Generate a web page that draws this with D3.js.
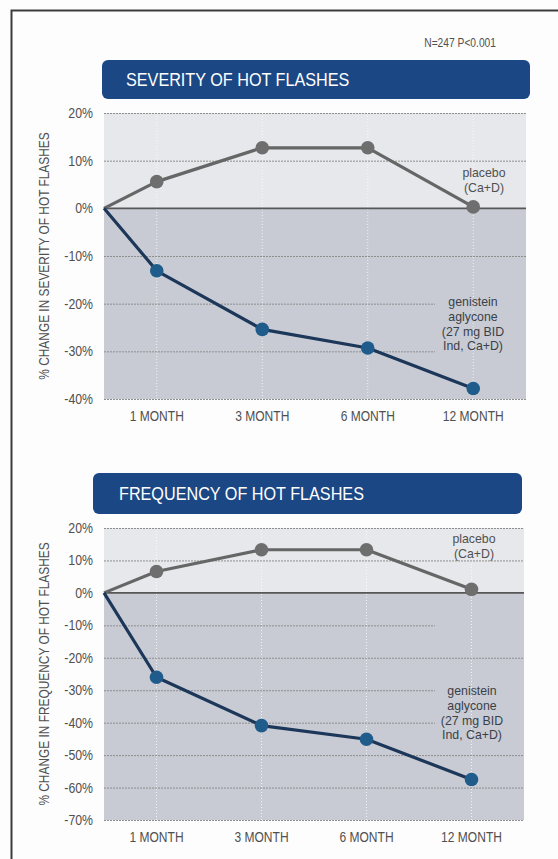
<!DOCTYPE html>
<html>
<head>
<meta charset="utf-8">
<script src="https://cdn.jsdelivr.net/npm/d3@7"></script>
<style>
  html, body { margin: 0; padding: 0; background: #fdfdfd; }
  svg { display: block; }
  text { font-family: 'Liberation Sans', Arial, sans-serif; }
</style>
</head>
<body>
<svg id="chart" width="558" height="859"></svg>
<script>
// ---------- DATA ----------
const months = ["1 MONTH", "3 MONTH", "6 MONTH", "12 MONTH"];
const baselineValue = 0;

const severityTitle = "SEVERITY OF HOT FLASHES";
const severityAxisTitle = "% CHANGE IN SEVERITY OF HOT FLASHES";
const severityTicks = [20, 10, 0, -10, -20, -30, -40];
const severityPlacebo = [5.6, 12.7, 12.7, 0.3];
const severityGenistein = [-13.1, -25.4, -29.3, -37.8];

const frequencyTitle = "FREQUENCY OF HOT FLASHES";
const frequencyAxisTitle = "% CHANGE IN FREQUENCY OF HOT FLASHES";
const frequencyTicks = [20, 10, 0, -10, -20, -30, -40, -50, -60, -70];
const frequencyPlacebo = [6.6, 13.3, 13.3, 1.1];
const frequencyGenistein = [-26.0, -40.9, -45.1, -57.5];

const placeboLabel = ["placebo", "(Ca+D)"];
const genisteinLabel = ["genistein", "aglycone", "(27 mg BID", "Ind, Ca+D)"];
const noteText = "N=247 P<0.001";

// ---------- STYLE ----------
const C = {
  bar: "#1b4784",
  above: "#e7e8ec",
  below: "#c8cbd4",
  grid: "#8e8e8e",
  zero: "#575757",
  placeboLine: "#666666",
  placeboDot: "#6e6e6e",
  genLine: "#1c3759",
  genDot: "#1f5b8b",
  text: "#505050"
};
const K = 0.86; // horizontal condensing of the small labels

const svg = d3.select("#chart");

// condensed text helper
function ctext(parent, x, y, str, size, k, anchor, fill) {
  return parent.append("text")
    .attr("transform", `translate(${x},${y}) scale(${k},1)`)
    .attr("text-anchor", anchor || "start")
    .attr("font-size", size).attr("fill", fill || C.text)
    .text(str);
}
function condenseAxisText(sel, k) {
  sel.each(function () {
    const t = d3.select(this);
    const x = +t.attr("x") || 0;
    t.attr("x", x / k).attr("transform", `scale(${k},1)`);
  });
}

// outer frame
svg.append("path")
  .attr("d", "M11.5,859 V10.5 H558")
  .attr("fill", "none").attr("stroke", "#3c3c3c").attr("stroke-width", 2);

ctext(svg, 496, 47, noteText, 12.5, 0.82, "end");

function drawPanel(cfg) {
  const g = svg.append("g");
  // title bar
  g.append("rect")
    .attr("x", cfg.bar.x).attr("y", cfg.bar.y)
    .attr("width", cfg.bar.w).attr("height", cfg.bar.h)
    .attr("rx", 6).attr("fill", C.bar);
  ctext(g, cfg.bar.tx, cfg.bar.y + cfg.bar.h / 2 + 6.5, cfg.title, 18, 0.9, "start", "#ffffff");

  const x = d3.scaleBand().domain(months).range([cfg.x0, cfg.x1]);
  const y = d3.scaleLinear().domain(cfg.domain).range([cfg.yBot, cfg.yTop]);
  const xc = m => x(m) + x.bandwidth() / 2;

  // backgrounds
  g.append("rect")
    .attr("x", cfg.x0).attr("y", y(cfg.domain[1]))
    .attr("width", cfg.x1 - cfg.x0).attr("height", y(0) - y(cfg.domain[1]))
    .attr("fill", C.above);
  g.append("rect")
    .attr("x", cfg.x0).attr("y", y(0))
    .attr("width", cfg.x1 - cfg.x0).attr("height", y(cfg.domain[0]) - y(0))
    .attr("fill", C.below);

  // vertical light gridlines
  g.selectAll(".vg").data(months).enter().append("line")
    .attr("x1", d => xc(d)).attr("x2", d => xc(d))
    .attr("y1", y(cfg.domain[1])).attr("y2", y(cfg.domain[0]))
    .attr("stroke", "#ffffff").attr("stroke-opacity", 0.75)
    .attr("stroke-dasharray", "1,2");

  // y axis tick labels
  const yAxis = d3.axisLeft(y).tickValues(cfg.ticks)
    .tickSize(0).tickPadding(11).tickFormat(d => d + "%");
  const ax = g.append("g").attr("transform", `translate(${cfg.x0},0)`).call(yAxis);
  ax.select(".domain").remove();
  ax.selectAll("text")
    .attr("font-family", "'Liberation Sans', Arial, sans-serif")
    .attr("font-size", 14).attr("fill", C.text);
  condenseAxisText(ax.selectAll("text"), 0.88);

  // horizontal gridlines
  g.selectAll(".hg").data(cfg.ticks.filter(t => t !== 0)).enter().append("line")
    .attr("x1", cfg.x0)
    .attr("x2", d => cfg.shortGrid.includes(d) ? cfg.gridStop : cfg.x1)
    .attr("y1", d => y(d) + 0.5).attr("y2", d => y(d) + 0.5)
    .attr("stroke", C.grid).attr("stroke-width", 1)
    .attr("stroke-dasharray", "2,1");

  g.append("line")
    .attr("x1", cfg.x0).attr("x2", cfg.x1)
    .attr("y1", y(0)).attr("y2", y(0))
    .attr("stroke", C.zero).attr("stroke-width", 1.6);

  // x axis labels
  const xAxis = d3.axisBottom(x).tickSize(0).tickPadding(12);
  const xa = g.append("g").attr("transform", `translate(0,${cfg.yBot})`).call(xAxis);
  xa.select(".domain").remove();
  xa.selectAll("text")
    .attr("font-family", "'Liberation Sans', Arial, sans-serif")
    .attr("font-size", 14).attr("fill", C.text);
  condenseAxisText(xa.selectAll("text"), K);

  // y axis title
  g.append("text")
    .attr("transform", `translate(${cfg.titleX},${(cfg.yTop + cfg.yBot) / 2}) rotate(-90) scale(0.85,1)`)
    .attr("text-anchor", "middle").attr("dy", "0.35em")
    .attr("font-size", 14).attr("fill", C.text)
    .text(cfg.axisTitle);

  // series lines
  const line = d3.line().x(d => d.x).y(d => y(d.v));
  function series(vals, lineColor, dotColor) {
    const pts = [{ x: cfg.x0, v: baselineValue }]
      .concat(vals.map((v, i) => ({ x: xc(months[i]), v })));
    g.append("path").datum(pts)
      .attr("d", line).attr("fill", "none")
      .attr("stroke", lineColor).attr("stroke-width", 3.2)
      .attr("stroke-linejoin", "round");
    g.selectAll(null).data(pts.slice(1)).enter().append("circle")
      .attr("cx", d => d.x).attr("cy", d => y(d.v)).attr("r", 6.8)
      .attr("fill", dotColor);
  }
  series(cfg.placebo, C.placeboLine, C.placeboDot);
  series(cfg.genistein, C.genLine, C.genDot);

  // series labels
  placeboLabel.forEach((t, i) =>
    ctext(g, cfg.placeboLab[0], cfg.placeboLab[1] + i * 14.8, t, 13, 0.95, "middle", C.text));
  genisteinLabel.forEach((t, i) =>
    ctext(g, cfg.genLab[0], cfg.genLab[1] + i * 14.8, t, 13, 0.95, "middle", "#3a3f48"));
}

drawPanel({
  title: severityTitle, axisTitle: severityAxisTitle,
  bar: { x: 102, y: 60, w: 428, h: 39, tx: 126 },
  x0: 104, x1: 526, yTop: 113, yBot: 399, domain: [-40, 20], ticks: severityTicks,
  placebo: severityPlacebo, genistein: severityGenistein,
  shortGrid: [-20, -30], gridStop: 435, titleX: 44,
  placeboLab: [484, 177], genLab: [473, 306]
});

drawPanel({
  title: frequencyTitle, axisTitle: frequencyAxisTitle,
  bar: { x: 93, y: 473, w: 429, h: 41, tx: 119 },
  x0: 104, x1: 524, yTop: 528, yBot: 820, domain: [-70, 20], ticks: frequencyTicks,
  placebo: frequencyPlacebo, genistein: frequencyGenistein,
  shortGrid: [-10, -30, -40], gridStop: 435, titleX: 44,
  placeboLab: [474, 543], genLab: [472, 695]
});
</script>
</body>
</html>
